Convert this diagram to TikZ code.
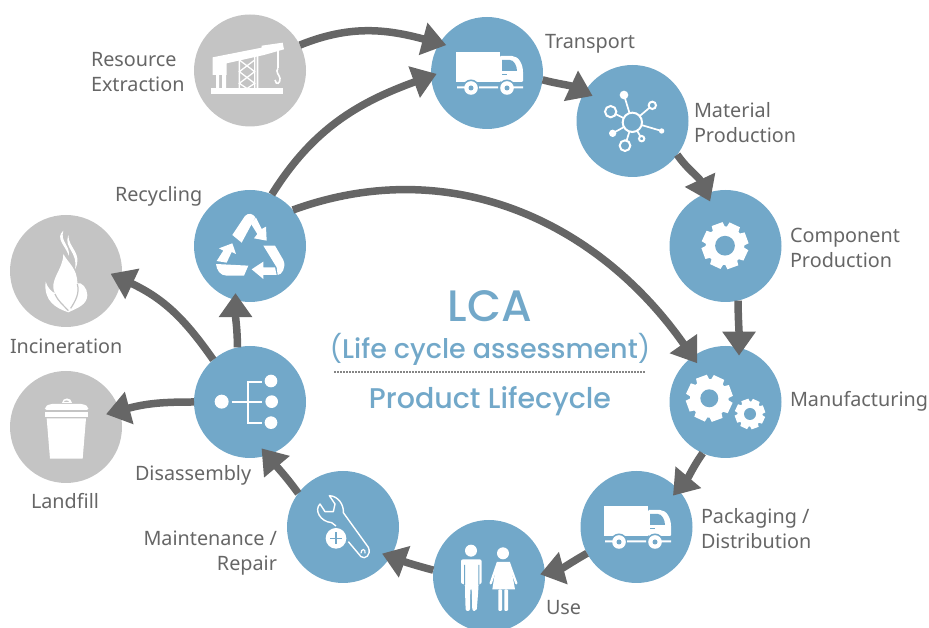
\documentclass[tikz,border=0pt]{standalone}
\usepackage{fontspec}
\setmainfont{Noto Sans}
\newfontfamily\titlefont{Poppins Medium}
\newfontfamily\parenfont{Poppins}
\usetikzlibrary{arrows.meta}
\definecolor{bluec}{HTML}{72A8C9}
\definecolor{grayc}{HTML}{C4C4C4}
\definecolor{arrowc}{HTML}{666666}
\definecolor{textc}{HTML}{666666}
\tikzset{
  stage/.style={circle,fill=bluec,minimum size=112pt,inner sep=0pt,outer sep=0pt},
  outside/.style={circle,fill=grayc,minimum size=112pt,inner sep=0pt,outer sep=0pt},
  flow/.style={draw=arrowc,line width=7.5pt,-{Triangle[length=24pt,width=32pt]},shorten >=-#1},
  lab/.style={text=textc,font=\fontsize{19.8}{25}\selectfont,inner sep=0pt,outer sep=0pt},
  title/.style={text=bluec,inner sep=0pt,outer sep=0pt,anchor=base},
}
\newcommand{\gearicon}[5]{% x y R hole colour
  \begin{scope}[shift={(#1,#2)},scale=#3]
    \fill[white] circle[radius=.84];
    \foreach \a in {0,45,...,315}{\fill[white,rotate=\a+20] (-.3,.6) -- (-.25,1) -- (.25,1) -- (.3,.6) -- cycle;}
    \fill[#5] circle[radius=#4];
  \end{scope}}
\newcommand{\truckicon}[2]{%
  \begin{scope}[shift={(#1,#2)}]
    \fill[white] (-31,-21) rectangle (13,9);
    \fill[white,rounded corners=1pt] (13,9) -- (13,-17) -- (24,-17) .. controls (32,-17) and (36,-8) .. (36,0) -- (36,9) -- cycle;
    \fill[bluec] (15,-13) -- (23,-13) .. controls (27,-13) and (30,-7) .. (30,-2) -- (15,-2) -- cycle;
    \fill[bluec] (15,1) rectangle (20,2.5);
    \fill[bluec] (-16,15) circle[radius=8.5] (20,15) circle[radius=8.5];
    \fill[white] (-30,13.5) rectangle (-22,15.5) (-8,13.5) rectangle (11,15.5) (26,13.5) rectangle (36,15.5);
    \fill[white] (-16,15) circle[radius=6.8] (20,15) circle[radius=6.8];
    \fill[bluec] (-16,15) circle[radius=2.5] (20,15) circle[radius=2.5];
  \end{scope}}
\begin{document}
\begin{tikzpicture}[x=1pt,y=1pt]
\useasboundingbox (0,0) rectangle (929,628);
\clip (0,0) rectangle (929,628);
\begin{scope}[shift={(0,628)},y=-1pt]
  \node[outside] (res) at (250,70.5) {};
  \node[stage] (tra) at (487,73) {};
  \node[stage] (mat) at (632.5,121) {};
  \node[stage] (com) at (725.5,246) {};
  \node[stage] (man) at (725.5,402) {};
  \node[stage] (pac) at (636.5,527) {};
  \node[stage] (use) at (489,576) {};
  \node[stage] (mai) at (343,527) {};
  \node[stage] (dis) at (250,402) {};
  \node[stage] (rec) at (250,246) {};
  \node[outside] (inc) at (66,271) {};
  \node[outside] (lan) at (66,427) {};

  % gears and trucks
  \gearicon{725}{245.7}{23}{.43}{bluec}
  \gearicon{709.3}{398.3}{23}{.39}{bluec}
  \gearicon{750}{414}{15}{.4}{bluec}
  \truckicon{487}{73}
  \truckicon{635}{527}

  \node[lab,anchor=base west,align=left] (lres) at (91,92) {Resource\\Extraction};
  \node[lab,anchor=base west] (ltra) at (545,49) {Transport};
  \node[lab,anchor=base west,align=left] (lmat) at (694,143) {Material\\Production};
  \node[lab,anchor=base west,align=left] (lcom) at (790,268) {Component\\Production};
  \node[lab,anchor=base west] (lman) at (790,407) {Manufacturing};
  \node[lab,anchor=base west,align=left] (lpac) at (701,549) {Packaging /\\Distribution};
  \node[lab,anchor=base west] (luse) at (546,615) {Use};
  \node[lab,anchor=base east,align=right] (lmai) at (277,571) {Maintenance /\\Repair};
  \node[lab,anchor=base west] (ldis) at (135,481) {Disassembly};
  \node[lab,anchor=base west] (lrec) at (115,202) {Recycling};
  \node[lab,anchor=base west] (linc) at (10,354) {Incineration};
  \node[lab,anchor=base west] (llan) at (31,509) {Landfill};

  \node[title,font=\titlefont\fontsize{44}{44}\selectfont] (t1) at (490,321.5) {LCA};
  \node[title,font=\titlefont\fontsize{27}{27}\selectfont] (t2) at (490,358.5) {{\parenfont(}Life cycle assessment{\parenfont)}};
  \node[title,font=\titlefont\fontsize{28.5}{28.5}\selectfont] (t3) at (490,408.5) {Product Lifecycle};
  \draw[arrowc!80,line width=1.1pt,dash pattern=on 1.5pt off 1.5pt] (334,372) -- (645,372);
\end{scope}

% crane (zoom coordinates, origin 190,0)
\begin{scope}[shift={(190,628)},x=.33333pt,y=-.33333pt]
  \fill[white] (63,265) rectangle (280,283);
  \fill[white] (68,172) -- (215,143) -- (215,137) -- (278,128) -- (282,148) -- (222,165) -- (110,190) -- (110,225) -- (68,225) -- cycle;
  \fill[white] (78,222) rectangle (87,265) (96,222) rectangle (108,265);
  \fill[white] (146,180) rectangle (150,265) (192,170) rectangle (196,265) (200,165) rectangle (205,265);
  \draw[white,line width=1.3pt] (148,180) -- (194,215) -- (148,250) -- (170,265) (194,180) -- (148,215) -- (194,250) -- (172,265);
  \draw[white,line width=1.2pt] (264,150) -- (264,205);
  \draw[white,line width=1.6pt] (264,205) .. controls (255,215) and (268,225) .. (270,235) .. controls (272,250) and (258,258) .. (255,240);
\end{scope}

% material network (origin 570,80)
\begin{scope}[shift={(570,628-80)},x=.33333pt,y=-.33333pt]
  \foreach \x/\y in {162/45,247/76,122/95,128/160,165/197,215/176,275/153}{\draw[white,line width=1.7pt] (187,127) -- (\x,\y);}
  \fill[bluec,draw=white,line width=2pt] (187,127) circle[radius=29];
  \fill[white] (162,45) circle[radius=13] (128,160) circle[radius=11] (275,153) circle[radius=8];
  \fill[bluec,draw=white,line width=2pt] (247,76) circle[radius=11] (122,95) circle[radius=17] (165,197) circle[radius=16] (215,176) circle[radius=8];
\end{scope}

% recycling and other icons (origin 0,180)
\begin{scope}[shift={(0,628-180)},x=.33333pt,y=-.33333pt]
  \fill[white] (697,165) -- (735,108) .. controls (745,98) and (758,100) .. (766,112) -- (725,188) -- cycle;
  \fill[white] (752,130) -- (768,113) -- (785,147) -- (798,140) -- (800,182) -- (762,175) -- (772,162) -- cycle;
  \fill[white] (790,197) -- (825,197) -- (850,240) .. controls (860,262) and (845,285) .. (833,285) -- (830,262) -- cycle;
  \fill[white] (755,268) -- (790,245) -- (790,262) -- (825,262) -- (830,285) -- (790,285) -- (790,297) -- cycle;
  \fill[white] (648,252) -- (745,257) -- (732,287) -- (680,287) .. controls (660,287) and (650,270) .. (648,252) -- cycle;
  \fill[white] (650,243) -- (670,212) -- (657,205) -- (697,190) -- (708,222) -- (695,216) -- (680,248) -- cycle;
  % tree
  \draw[white,line width=1.7pt] (695,665) -- (785,665) (785,605) -- (745,605) -- (745,728) -- (785,728);
  \fill[white] (665,665) circle[radius=21] (813,603) circle[radius=19] (815,665) circle[radius=19] (813,728) circle[radius=19];
  % flame
  \fill[white] (205,397) .. controls (170,385) and (130,365) .. (137,305) .. controls (143,325) and (155,335) .. (165,340) .. controls (145,300) and (190,270) .. (190,222) .. controls (205,250) and (232,265) .. (232,310) .. controls (245,305) and (262,325) .. (262,345) .. controls (262,375) and (230,385) .. (205,397) -- cycle;
  \fill[white] (190,152) .. controls (165,175) and (195,195) .. (207,228) .. controls (210,195) and (180,185) .. (190,152) -- cycle;
  \fill[white] (205,165) .. controls (190,205) and (235,215) .. (225,268) .. controls (250,220) and (205,205) .. (205,165) -- cycle;
  \draw[grayc,line width=1.2pt] (165,342) .. controls (175,365) and (190,375) .. (205,392) (232,312) .. controls (240,340) and (225,365) .. (212,385);
  % bin
  \fill[white] (185,668) .. controls (185,652) and (215,652) .. (215,668) -- cycle;
  \fill[grayc] (192,666) .. controls (192,660) and (208,660) .. (208,666) -- cycle;
  \fill[white,rounded corners=2pt] (135,690) -- (135,680) -- (150,672) -- (250,672) -- (265,680) -- (265,690) -- cycle;
  \fill[white] (135,696) rectangle (263,711);
  \fill[white] (140,715) -- (258,715) -- (248,836) -- (150,836) -- cycle;
\end{scope}

% wrench and people (origin 280,490)
\begin{scope}[shift={(280,628-490)},x=.33333pt,y=-.33333pt]
  \draw[white,line width=1.4pt,line join=round] (205,155) -- (243,200) .. controls (255,210) and (275,195) .. (265,172) -- (190,68) .. controls (192,45) and (175,18) .. (148,17) -- (165,42) -- (160,65) -- (135,65) -- (120,42) .. controls (102,60) and (120,95) .. (155,98) -- (168,108);
  \draw[white,line width=1.2pt] (243,190) .. controls (243,175) and (258,175) .. (255,190);
  \fill[white] (168,145) circle[radius=31];
  \draw[bluec,line width=1.6pt] (150,145) -- (186,145) (168,127) -- (168,163);
  \fill[white] (573,182) circle[radius=18] (669,190) circle[radius=18];
  \fill[white,rounded corners=2pt] (543,208) -- (605,208) -- (605,282) -- (595,282) -- (595,300) -- (590,363) -- (577,363) -- (575,295) -- (571,295) -- (570,363) -- (557,363) -- (555,300) -- (555,282) -- (543,282) -- cycle;
  \fill[bluec] (552,225) rectangle (555,285) (595,225) rectangle (598,285);
  \fill[white] (650,216) -- (690,216) -- (705,298) -- (637,298) -- cycle;
  \draw[white,line width=2.3pt,line cap=round] (652,222) -- (632,280) (688,222) -- (709,280);
  \fill[white,rounded corners=1pt] (655,298) rectangle (666,363) (673,298) rectangle (684,363);
\end{scope}

\draw[flow=7pt] (res.27) to[out=22,in=165] (tra.148);
\draw[flow=6pt] (rec.67) to[out=58,in=200] (tra.183);
\draw[flow=8pt] (rec.40) to[out=20,in=125] (man.126);
\draw[flow=9pt] (tra.-7) to[out=-15,in=155] (mat.149);
\draw[flow=9pt] (mat.-37) to[out=-55,in=115] (com.110);
\draw[flow=8pt] (com.-77) to[out=-90,in=90] (man.76);
\draw[flow=8pt] (man.-114) to[out=-125,in=50] (pac.42);
\draw[flow=5pt] (pac.-152) to[out=-150,in=15] (use.3);
\draw[flow=9pt] (use.174) to[out=165,in=-20] (mai.-32);
\draw[flow=9pt] (mai.143) to[out=126,in=-50] (dis.-72);
\draw[flow=7pt] (dis.103) to[out=90,in=-90] (rec.-105);
\draw[flow=12pt] (dis.131) to[out=125,in=-25] (inc.-8);
\draw[flow=14pt] (dis.180) to[out=180,in=15] (lan.17);
\end{tikzpicture}
\end{document}
